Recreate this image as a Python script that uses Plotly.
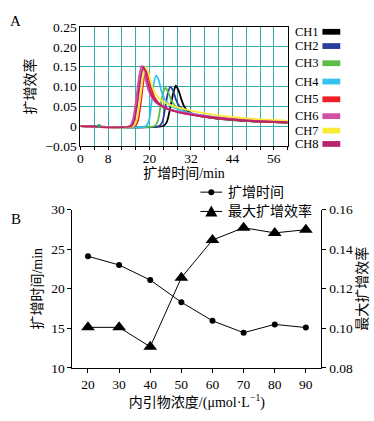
import plotly.graph_objects as go

W, H = 374, 421

# ---------------- Panel A data ----------------
channels = ["CH1", "CH2", "CH3", "CH4", "CH5", "CH6", "CH7", "CH8"]
colors = ["#000000", "#2b3d9c", "#5cbc45", "#33c3ee", "#ee1d26", "#d250a4", "#fbe93a", "#b9236f"]

ch1_t = [0, 24.0, 25.0, 26.0, 26.8, 27.6, 28.4, 29.2, 30.0, 31.0, 33, 36, 40, 44, 50, 56, 60]
ch1_v = [0, 0, 0.01, 0.045, 0.08, 0.102, 0.09, 0.068, 0.05, 0.038, 0.029, 0.023, 0.018, 0.015, 0.012, 0.01, 0.009]
ch2_t = [0, 22.8, 23.8, 24.6, 25.3, 26.0, 26.8, 27.6, 28.5, 30.0, 32, 36, 40, 44, 50, 56, 60]
ch2_v = [0, 0, 0.012, 0.05, 0.082, 0.099, 0.09, 0.068, 0.052, 0.04, 0.031, 0.024, 0.019, 0.016, 0.012, 0.01, 0.009]
ch3_t = [0, 21.5, 22.4, 23.2, 23.9, 24.6, 25.3, 26.2, 27.2, 28.6, 31, 35, 40, 44, 50, 56, 60]
ch3_v = [0, 0, 0.012, 0.05, 0.083, 0.096, 0.088, 0.068, 0.053, 0.042, 0.033, 0.025, 0.019, 0.016, 0.012, 0.01, 0.009]
ch4_t = [0, 19.0, 19.9, 20.6, 21.2, 21.9, 22.6, 23.4, 24.4, 25.6, 27.5, 31, 36, 42, 50, 56, 60]
ch4_v = [0, 0, 0.015, 0.06, 0.105, 0.127, 0.118, 0.09, 0.068, 0.055, 0.045, 0.034, 0.026, 0.019, 0.013, 0.011, 0.01]
ch5_t = [0, 15.8, 16.7, 17.5, 18.2, 18.9, 19.6, 20.5, 21.6, 23.0, 25, 28, 32, 38, 44, 50, 56, 60]
ch5_v = [0, 0, 0.015, 0.06, 0.11, 0.142, 0.128, 0.095, 0.07, 0.055, 0.045, 0.036, 0.029, 0.021, 0.016, 0.012, 0.01, 0.009]
ch6_t = [0, 14.3, 15.3, 16.2, 17.0, 17.7, 18.4, 19.3, 20.4, 21.8, 24, 27, 32, 38, 44, 50, 56, 60]
ch6_v = [0, 0, 0.02, 0.07, 0.125, 0.152, 0.14, 0.102, 0.076, 0.06, 0.048, 0.039, 0.031, 0.024, 0.019, 0.015, 0.012, 0.011]
ch7_t = [0, 15.4, 16.4, 17.3, 18.1, 18.8, 19.6, 20.6, 21.8, 23.4, 26, 30, 35, 40, 46, 52, 58, 60]
ch7_v = [0, 0, 0.02, 0.07, 0.122, 0.149, 0.137, 0.105, 0.08, 0.065, 0.053, 0.043, 0.034, 0.027, 0.021, 0.017, 0.014, 0.013]
ch8_t = [0, 14.8, 15.7, 16.6, 17.4, 18.2, 18.9, 19.8, 20.9, 22.3, 24.5, 28, 32, 38, 44, 50, 56, 60]
ch8_v = [0, 0, 0.018, 0.065, 0.12, 0.15, 0.136, 0.1, 0.074, 0.058, 0.046, 0.036, 0.029, 0.022, 0.017, 0.013, 0.011, 0.01]

series_t = [ch1_t, ch2_t, ch3_t, ch4_t, ch5_t, ch6_t, ch7_t, ch8_t]
series_v = [ch1_v, ch2_v, ch3_v, ch4_v, ch5_v, ch6_v, ch7_v, ch8_v]

dot_t = [5.4]
dot_v = [0.0]

a_xticks = [0, 8, 20, 32, 44, 56]
a_yticks = [0.25, 0.20, 0.15, 0.10, 0.05, 0, -0.05]
a_yticklabels = ["0.25", "0.20", "0.15", "0.10", "0.05", "0", "\u22120.05"]

# ---------------- Panel B data ----------------
conc = [20, 30, 40, 50, 60, 70, 80, 90]
amp_time = [24.1, 23.0, 21.1, 18.3, 15.95, 14.45, 15.5, 15.1]
max_eff = [0.1005, 0.1005, 0.0907, 0.1256, 0.1446, 0.1508, 0.1482, 0.1498]
b_yticks = [10, 15, 20, 25, 30]
b_y2ticks = [0.08, 0.10, 0.12, 0.14, 0.16]
b_y2ticklabels = ["0.08", "0.10", "0.12", "0.14", "0.16"]

FONT = "Liberation Serif, Noto Sans CJK SC"
GRID = "#3aa9aa"
TICK = 13.5
TITLE = 14

fig = go.Figure()

for name, t, v, c in zip(channels, series_t, series_v, colors):
    fig.add_trace(go.Scatter(x=t, y=v, mode="lines", name=name, line=dict(color=c, width=1.8, shape="spline", smoothing=0.6),
                             xaxis="x", yaxis="y", showlegend=False))
fig.add_trace(go.Scatter(x=dot_t, y=dot_v, mode="markers", marker=dict(color="#3a9a6a", size=4),
                         xaxis="x", yaxis="y", showlegend=False))

fig.add_trace(go.Scatter(x=conc, y=amp_time, mode="lines+markers", name="扩增时间",
                         line=dict(color="black", width=1), marker=dict(symbol="circle", size=6, color="black"),
                         xaxis="x2", yaxis="y2", showlegend=False))
fig.add_trace(go.Scatter(x=conc, y=max_eff, mode="lines+markers", name="最大扩增效率",
                         line=dict(color="black", width=1), marker=dict(symbol="triangle-up", size=12, color="black"),
                         xaxis="x2", yaxis="y3", showlegend=False))

def px(x):
    return x / W

def py(y):
    return 1 - y / H

fig.update_layout(
    width=W, height=H, margin=dict(l=0, r=0, t=0, b=0),
    paper_bgcolor="white", plot_bgcolor="white",
    font=dict(family=FONT, size=12, color="black"),
    xaxis=dict(domain=[px(78), px(287)], range=[0, 60], anchor="y",
               tickvals=a_xticks, showgrid=False, ticks="", zeroline=False,
               minor=dict(tick0=0, dtick=4, showgrid=True, gridcolor=GRID, gridwidth=1.3,
                          ticks="outside", ticklen=3, tickcolor="black"),
               showline=True, linecolor="black", linewidth=1, mirror=True,
               title=dict(text="扩增时间/min", font=dict(size=TITLE), standoff=3), tickfont=dict(size=TICK)),
    yaxis=dict(domain=[py(144), py(20.7)], range=[-0.05, 0.25], anchor="x",
               tickvals=a_yticks, ticktext=a_yticklabels, ticks="", showgrid=True, gridcolor=GRID, gridwidth=1.3,
               showline=True, linecolor="black", linewidth=1, mirror=True, zeroline=False,
               title=dict(text="扩增效率", font=dict(size=TITLE), standoff=6), tickfont=dict(size=TICK)),
    xaxis2=dict(domain=[px(70), px(321)], range=[15, 95], anchor="y2", tickvals=conc,
                ticks="outside", ticklen=4, tickcolor="black", showgrid=False, zeroline=False,
                showline=True, linecolor="black", linewidth=1,
                title=dict(text="内引物浓度/(μmol·L<sup>−1</sup>)", font=dict(size=TITLE), standoff=3), tickfont=dict(size=TICK)),
    yaxis2=dict(domain=[py(374.3), py(210)], range=[10, 30], anchor="x2", tickvals=b_yticks,
                ticks="outside", ticklen=4, tickcolor="black", showgrid=False, zeroline=False,
                showline=True, linecolor="black", linewidth=1,
                title=dict(text="扩增时间/min", font=dict(size=TITLE), standoff=5), tickfont=dict(size=TICK)),
    yaxis3=dict(range=[0.08, 0.16], anchor="x2", overlaying="y2", side="right", tickvals=b_y2ticks, ticktext=b_y2ticklabels,
                ticks="outside", ticklen=4, tickcolor="black", showgrid=False, zeroline=False,
                showline=True, linecolor="black", linewidth=1,
                title=dict(text="最大扩增效率", font=dict(size=TITLE), standoff=5), tickfont=dict(size=TICK)),
)

annotations = []
shapes = []

# Panel labels
annotations.append(dict(text="A", x=px(13), y=py(15), xref="paper", yref="paper", showarrow=False,
                        font=dict(size=15), xanchor="center", yanchor="middle"))
annotations.append(dict(text="B", x=px(13), y=py(220), xref="paper", yref="paper", showarrow=False,
                        font=dict(size=15), xanchor="center", yanchor="middle"))

# Panel A legend (text + colour swatches)
leg_y = [25.7, 40.5, 58.3, 77.3, 95.7, 113.2, 128.2, 142]
for name, c, yy in zip(channels, colors, leg_y):
    annotations.append(dict(text=name, x=px(293), y=py(yy), xref="paper", yref="paper", showarrow=False,
                            font=dict(size=12.5), xanchor="left", yanchor="middle", borderpad=0))
    shapes.append(dict(type="rect", xref="paper", yref="paper", x0=px(322), x1=px(340), y0=py(yy + 3), y1=py(yy - 3),
                       fillcolor=c, line=dict(width=0)))

# Panel B legend
b_names = ["扩增时间", "最大扩增效率"]
b_leg_y = [192, 212]
for i, (name, yy) in enumerate(zip(b_names, b_leg_y)):
    annotations.append(dict(text=name, x=px(225), y=py(yy), xref="paper", yref="paper", showarrow=False,
                            font=dict(size=TITLE), xanchor="left", yanchor="middle"))
    shapes.append(dict(type="line", xref="paper", yref="paper", x0=px(199), x1=px(221), y0=py(yy), y1=py(yy),
                       line=dict(color="black", width=1)))
    if i == 0:
        shapes.append(dict(type="circle", xref="paper", yref="paper", xsizemode="pixel", ysizemode="pixel",
                           xanchor=px(210), yanchor=py(yy), x0=-3, x1=3, y0=-3, y1=3,
                           fillcolor="black", line=dict(width=0)))
    else:
        shapes.append(dict(type="path", xref="paper", yref="paper", xsizemode="pixel", ysizemode="pixel",
                           xanchor=px(210), yanchor=py(yy), path="M -6 -5 L 6 -5 L 0 6 Z",
                           fillcolor="black", line=dict(width=0)))

fig.update_layout(annotations=annotations, shapes=shapes)
fig.write_html("out.html", config={"displayModeBar": False},
               post_script="document.body.style.margin='0';document.body.style.overflow='hidden';")
